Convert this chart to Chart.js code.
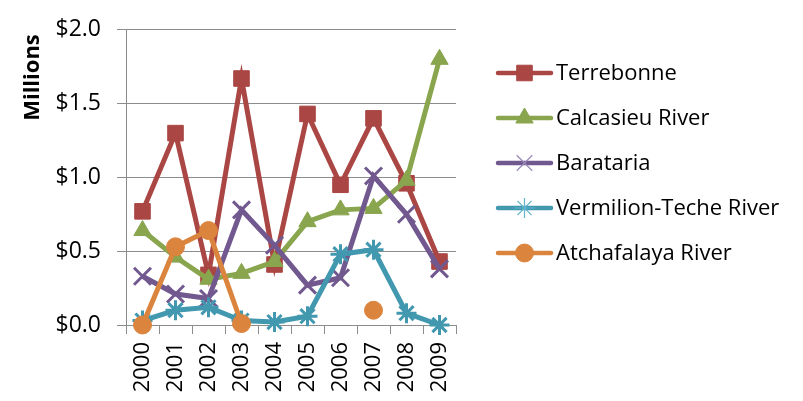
<!DOCTYPE html>
<html>
<head>
<meta charset="utf-8">
<script src="https://cdn.jsdelivr.net/npm/chart.js@4/dist/chart.umd.min.js"></script>
<style>
html,body{margin:0;padding:0;background:#fff;}
#wrap{width:803px;height:401px;position:relative;}
</style>
</head>
<body>
<div id="wrap"><canvas id="c" width="803" height="401"></canvas></div>
<script>
const years = ['2000','2001','2002','2003','2004','2005','2006','2007','2008','2009'];
const seriesNames = ['Terrebonne','Calcasieu River','Barataria','Vermilion-Teche River','Atchafalaya River'];
const terrebonne = [0.77, 1.30, 0.34, 1.67, 0.41, 1.43, 0.95, 1.40, 0.96, 0.43];
const calcasieu = [0.64, 0.46, 0.31, 0.35, 0.43, 0.70, 0.78, 0.79, 0.98, 1.80];
const barataria = [0.33, 0.21, 0.18, 0.78, 0.54, 0.27, 0.32, 1.01, 0.75, 0.38];
const vermilion = [0.03, 0.10, 0.12, 0.03, 0.02, 0.06, 0.48, 0.51, 0.08, 0.00];
const atchafalaya = [0.00, 0.53, 0.64, 0.01, null, null, null, 0.10, null, null];
const yTicks = [0, 0.5, 1.0, 1.5, 2.0];
const yTitle = 'Millions';

const colors = ['#AA4643','#89A54E','#71588F','#4198AF','#DB843D'];
const legendMarkerColors = ['#AA4643','#89A54E','#9A88B8','#5FB3CB','#DB843D'];
const styles = ['rect','triangle','crossRot','star','circle'];
const radii = [11, 10, 12, 10, 9];
const pbw = [1, 1, 3, 3, 1];
const legendRadii = [11, 10, 11, 10, 9];
const legendBw = [1, 1, 1.2, 1.2, 1];
const allData = [terrebonne, calcasieu, barataria, vermilion, atchafalaya];

const FONT = "'Open Sans', 'Noto Sans', sans-serif";

const datasets = allData.map((d, i) => ({
  label: seriesNames[i],
  data: d,
  borderColor: colors[i],
  backgroundColor: colors[i],
  borderWidth: 5,
  pointStyle: styles[i],
  pointRadius: radii[i],
  pointHoverRadius: radii[i],
  pointBackgroundColor: colors[i],
  pointBorderColor: colors[i],
  pointBorderWidth: pbw[i],
  tension: 0,
  spanGaps: false,
  clip: false,
  order: allData.length - i
}));

const customPlugin = {
  id: 'custom',
  afterDraw(chart) {
    const ctx = chart.ctx;
    ctx.save();
    // y axis title
    ctx.translate(33, 77.5);
    ctx.rotate(-Math.PI / 2);
    ctx.font = "bold 22px " + FONT;
    ctx.fillStyle = '#000';
    ctx.textAlign = 'center';
    ctx.textBaseline = 'middle';
    ctx.fillText(yTitle, 0, 0);
    ctx.restore();

    // legend
    seriesNames.forEach((name, i) => {
      const y = 73 + 45 * i;
      ctx.save();
      ctx.strokeStyle = colors[i];
      ctx.lineWidth = 4.5;
      ctx.lineCap = 'round';
      ctx.beginPath();
      ctx.moveTo(498, y);
      ctx.lineTo(551, y);
      ctx.stroke();
      ctx.restore();
      ctx.save();
      ctx.fillStyle = legendMarkerColors[i];
      ctx.strokeStyle = legendMarkerColors[i];
      ctx.lineWidth = legendBw[i];
      Chart.helpers.drawPoint(ctx, {
        pointStyle: styles[i],
        radius: legendRadii[i],
        borderWidth: legendBw[i],
        rotation: 0
      }, 524.5, y);
      ctx.restore();
      ctx.save();
      ctx.fillStyle = '#000';
      ctx.font = "22px " + FONT;
      ctx.textAlign = 'left';
      ctx.textBaseline = 'middle';
      ctx.fillText(name, 556, y + 1);
      ctx.restore();
    });
  }
};

new Chart(document.getElementById('c'), {
  type: 'line',
  data: { labels: years, datasets: datasets },
  options: {
    responsive: false,
    animation: false,
    events: [],
    layout: { padding: { top: 27, right: 347, left: 0, bottom: 0 } },
    plugins: { legend: { display: false }, tooltip: { enabled: false } },
    scales: {
      x: {
        offset: true,
        grid: { offset: true, drawOnChartArea: false, drawTicks: true, tickLength: 9, color: '#8c8c8c', lineWidth: 1 },
        border: { color: '#8c8c8c', width: 1 },
        ticks: { minRotation: 90, maxRotation: 90, autoSkip: false, padding: 8, color: '#000', font: { family: FONT, size: 22 } },
        afterFit(scale) { scale.height = 76; }
      },
      y: {
        min: 0,
        max: 2,
        afterBuildTicks(scale) { scale.ticks = yTicks.map(v => ({ value: v })); },
        grid: { color: '#8c8c8c', lineWidth: 1, drawTicks: true, tickLength: 9 },
        border: { color: '#8c8c8c', width: 1 },
        ticks: { padding: 16, color: '#000', font: { family: FONT, size: 23 }, callback: v => '$' + Number(v).toFixed(1) },
        afterFit(scale) { scale.width = 126; }
      }
    }
  },
  plugins: [customPlugin]
});
</script>
</body>
</html>
